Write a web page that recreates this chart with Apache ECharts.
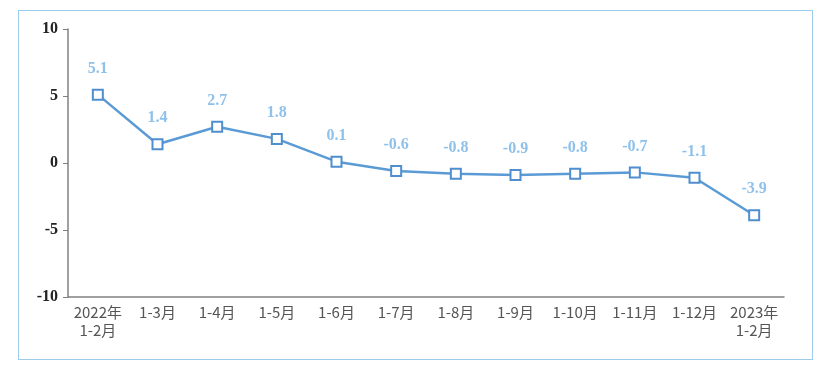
<!DOCTYPE html>
<html><head><meta charset="utf-8">
<script src="https://cdn.jsdelivr.net/npm/echarts@6/dist/echarts.min.js"></script>
<style>
html,body{margin:0;padding:0;background:#fff;}
#frame{position:absolute;left:18px;top:10px;width:795px;height:350px;border:1px solid #9dcbec;box-sizing:border-box;}
#c{position:absolute;left:0;top:0;width:832px;height:372px;}
</style></head>
<body>
<div id="frame"></div>
<div id="c"></div>
<script>
const categories = ['2022年\n1-2月','1-3月','1-4月','1-5月','1-6月','1-7月','1-8月','1-9月','1-10月','1-11月','1-12月','2023年\n1-2月'];
const values = [5.1, 1.4, 2.7, 1.8, 0.1, -0.6, -0.8, -0.9, -0.8, -0.7, -1.1, -3.9];
const yTicks = [-10, -5, 0, 5, 10];

const chart = echarts.init(document.getElementById('c'), null, {renderer:'canvas'});
chart.setOption({
  animation:false,
  grid:{left:68, right:48, top:29, bottom:75, containLabel:false},
  xAxis:{
    type:'category', data:categories, boundaryGap:true,
    axisLine:{onZero:false, lineStyle:{color:'#808080', width:1.5}},
    axisTick:{show:false},
    axisLabel:{color:'#555', fontSize:15, fontFamily:'"Noto Sans CJK SC", sans-serif', interval:0, lineHeight:18, margin:6}
  },
  yAxis:{
    type:'value', min:yTicks[0], max:yTicks[yTicks.length-1], interval:5,
    splitLine:{show:false},
    axisLine:{show:true, lineStyle:{color:'#808080', width:1.5}},
    axisTick:{show:true, length:5, lineStyle:{color:'#808080'}},
    axisLabel:{color:'#222', fontSize:16, fontWeight:'bold', fontFamily:'"Liberation Serif", serif', margin:10}
  },
  series:[{
    type:'line', data:values,
    symbol:'rect', symbolSize:10,
    lineStyle:{color:'#5b9bd5', width:2.5},
    itemStyle:{color:'#fff', borderColor:'#4f8fce', borderWidth:2},
    label:{show:true, position:'top', distance:12, color:'#8fc1ea', fontSize:16, fontWeight:'bold', fontFamily:'"Liberation Serif", serif',
      formatter:p=>values[p.dataIndex].toFixed(1)}
  }]
});
</script>
</body></html>
